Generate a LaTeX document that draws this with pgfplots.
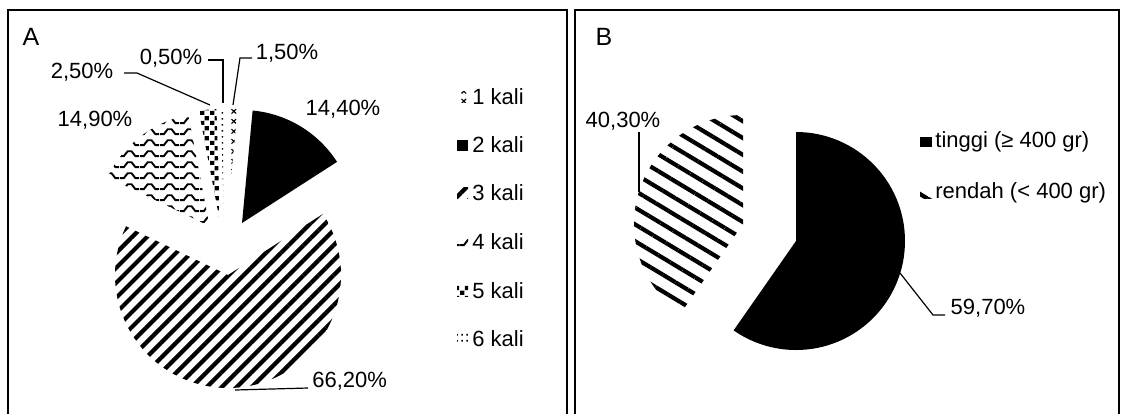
\documentclass[border=0pt]{standalone}
\usepackage{pgfplots}
\pgfplotsset{compat=1.18}
\usepackage{pgfplotstable}
\usetikzlibrary{patterns,patterns.meta}
\usepackage{fontspec}
\setmainfont{Liberation Sans}

\pgfdeclarepatternformonly{wavy}{\pgfqpoint{0pt}{0pt}}{\pgfqpoint{10pt}{5.6pt}}{\pgfqpoint{10pt}{5.6pt}}{
  \pgfsetlinewidth{1pt}
  \pgfpathmoveto{\pgfqpoint{0pt}{1pt}}
  \pgfpathlineto{\pgfqpoint{2pt}{1pt}}
  \pgfpathlineto{\pgfqpoint{4pt}{3.6pt}}
  \pgfpathlineto{\pgfqpoint{6pt}{3.6pt}}
  \pgfpathlineto{\pgfqpoint{8pt}{1pt}}
  \pgfpathlineto{\pgfqpoint{10pt}{1pt}}
  \pgfusepath{stroke}}
\pgfdeclarepatternformonly{checker}{\pgfqpoint{0pt}{0pt}}{\pgfqpoint{5pt}{5pt}}{\pgfqpoint{5pt}{5pt}}{
  \pgfpathrectangle{\pgfqpoint{0pt}{0pt}}{\pgfqpoint{2.3pt}{2.3pt}}
  \pgfpathrectangle{\pgfqpoint{2.5pt}{2.5pt}}{\pgfqpoint{2.3pt}{2.3pt}}
  \pgfusepath{fill}}
\pgfdeclarepatternformonly{smalldots}{\pgfqpoint{0pt}{0pt}}{\pgfqpoint{2.5pt}{3pt}}{\pgfqpoint{2.5pt}{3pt}}{
  \pgfpathrectangle{\pgfqpoint{0.8pt}{0.8pt}}{\pgfqpoint{0.8pt}{0.9pt}}
  \pgfusepath{fill}}
\pgfdeclarepatternformonly{smallx}{\pgfqpoint{0pt}{0pt}}{\pgfqpoint{5pt}{5pt}}{\pgfqpoint{5pt}{5pt}}{
  \pgfsetlinewidth{0.6pt}
  \pgfpathmoveto{\pgfqpoint{0.8pt}{0.8pt}}\pgfpathlineto{\pgfqpoint{3.2pt}{3.2pt}}
  \pgfpathmoveto{\pgfqpoint{0.8pt}{3.2pt}}\pgfpathlineto{\pgfqpoint{3.2pt}{0.8pt}}
  \pgfusepath{stroke}}

\tikzset{
  pA1/.style={pattern=smallx},
  pA2/.style={fill=black},
  pA3/.style={pattern={Lines[angle=45,distance=5.3pt,line width=2.1pt]}},
  pA4/.style={pattern=wavy},
  pA5/.style={pattern=checker},
  pA6/.style={pattern=smalldots},
  pB1/.style={fill=black},
  pB2/.style={pattern={Lines[angle=-31,distance=7.2pt,line width=2.1pt]}},
  lab/.style={font=\fontsize{11}{13}\selectfont, inner sep=0pt},
}

\pgfplotstableread{
kali pct
1 1.5
2 14.4
3 66.2
4 14.9
5 2.5
6 0.5
}\tabA
\pgfplotstableread{
kat pct
tinggi 59.7
rendah 40.3
}\tabB

\begin{document}
\begin{tikzpicture}
\pgfplotstablegetelem{0}{pct}\of\tabA \let\Aa\pgfplotsretval
\pgfplotstablegetelem{1}{pct}\of\tabA \let\Ab\pgfplotsretval
\pgfplotstablegetelem{2}{pct}\of\tabA \let\Ac\pgfplotsretval
\pgfplotstablegetelem{3}{pct}\of\tabA \let\Ad\pgfplotsretval
\pgfplotstablegetelem{4}{pct}\of\tabA \let\Ae\pgfplotsretval
\pgfplotstablegetelem{5}{pct}\of\tabA \let\Af\pgfplotsretval
\pgfplotstablegetelem{0}{pct}\of\tabB \let\Ba\pgfplotsretval
\pgfplotstablegetelem{1}{pct}\of\tabB \let\Bb\pgfplotsretval
% cumulative angles (math convention, clockwise from 12 o'clock)
\pgfmathsetmacro\tA{90}
\pgfmathsetmacro\tB{90-3.6*\Aa}
\pgfmathsetmacro\tC{\tB-3.6*\Ab}
\pgfmathsetmacro\tD{\tC-3.6*\Ac}
\pgfmathsetmacro\tE{\tD-3.6*\Ad}
\pgfmathsetmacro\tF{\tE-3.6*\Ae}
\pgfmathsetmacro\tG{\tF-3.6*\Af}
\pgfmathsetmacro\uA{90}
\pgfmathsetmacro\uB{90-3.6*\Ba}
\pgfmathsetmacro\uC{\uB-3.6*\Bb}
\begin{axis}[
  scale only axis, width=562pt, height=207pt,
  xmin=0, xmax=1124, ymin=0, ymax=414, y dir=reverse,
  hide axis, clip=false,
]
% panel frames
\draw[line width=0.6pt] (axis cs:8,414) -- (axis cs:8,10) -- (axis cs:567,10) -- (axis cs:567,414);
\draw[line width=0.6pt] (axis cs:575,414) -- (axis cs:575,10) -- (axis cs:1119,10) -- (axis cs:1119,414);
\node[font=\fontsize{12.5}{14}\selectfont, inner sep=0pt] at (axis cs:31,37) {A};
\node[font=\fontsize{12.5}{14}\selectfont, inner sep=0pt] at (axis cs:604,37) {B};

% ---- Pie A (r = 113 px = 56.5pt) ----
\fill[pA1] (axis cs:227,221) -- ++(\tA:56.5pt) arc[start angle=\tA, end angle=\tB, radius=56.5pt] -- cycle;
\fill[pA2] (axis cs:242,223) -- ++(\tB:56.5pt) arc[start angle=\tB, end angle=\tC, radius=56.5pt] -- cycle;
\fill[pA3] (axis cs:228,275) -- ++(\tC:56.5pt) arc[start angle=\tC, end angle=\tD, radius=56.5pt] -- cycle;
\fill[pA4] (axis cs:209.5,226) -- ++(\tD:56.5pt) arc[start angle=\tD, end angle=\tE, radius=56.5pt] -- cycle;
\fill[pA5] (axis cs:220,222) -- ++(\tE:56.5pt) arc[start angle=\tE, end angle=\tF, radius=56.5pt] -- cycle;
\fill[pA6] (axis cs:224,221) -- ++(\tF:56.5pt) arc[start angle=\tF, end angle=\tG, radius=56.5pt] -- cycle;

% labels A
\draw[line width=0.6pt] (axis cs:124,73) -- (axis cs:137,73) -- (axis cs:210,105);
\draw[line width=0.6pt] (axis cs:208,60) -- (axis cs:223,60) -- (axis cs:223,103);
\draw[line width=0.6pt] (axis cs:233,105) -- (axis cs:240,58) -- (axis cs:252,58);
\draw[line width=0.6pt] (axis cs:235,390) -- (axis cs:308,388);
\node[lab] at (axis cs:82,72) {2,50\%};
\node[lab] at (axis cs:171,58) {0,50\%};
\node[lab] at (axis cs:287,53) {1,50\%};
\node[lab] at (axis cs:95,120) {14,90\%};
\node[lab] at (axis cs:343,109) {14,40\%};
\node[lab, anchor=west] at (axis cs:312,381) {66,20\%};

% legend A
\fill[pA1] (axis cs:457,91.5) rectangle (axis cs:468,102.5);
\node[lab, anchor=west] at (axis cs:472,97) {1 kali};
\fill[pA2] (axis cs:457,139.5) rectangle (axis cs:468,150.5);
\node[lab, anchor=west] at (axis cs:472,145) {2 kali};
\fill[pA3] (axis cs:457,187.5) rectangle (axis cs:468,198.5);
\node[lab, anchor=west] at (axis cs:472,193) {3 kali};
\fill[pA4] (axis cs:457,236.5) rectangle (axis cs:468,247.5);
\node[lab, anchor=west] at (axis cs:472,242) {4 kali};
\fill[pA5] (axis cs:457,285.5) rectangle (axis cs:468,296.5);
\node[lab, anchor=west] at (axis cs:472,291) {5 kali};
\fill[pA6] (axis cs:457,333.5) rectangle (axis cs:468,344.5);
\node[lab, anchor=west] at (axis cs:472,339) {6 kali};

% ---- Pie B (r = 109 px = 54.5pt) ----
\fill[pB1] (axis cs:796,241) -- ++(\uA:54.5pt) arc[start angle=\uA, end angle=\uB, radius=54.5pt] -- cycle;
\fill[pB2] (axis cs:743,224) -- ++(\uB:54.5pt) arc[start angle=\uB, end angle=\uC, radius=54.5pt] -- cycle;
\draw[line width=0.6pt] (axis cs:639,132) -- (axis cs:639,192);
\draw[line width=0.6pt] (axis cs:900,273) -- (axis cs:933,315) -- (axis cs:945,315);
\node[lab] at (axis cs:623,121) {40,30\%};
\node[lab] at (axis cs:988,308) {59,70\%};

% legend B
\fill[pB1] (axis cs:920,137) rectangle (axis cs:932,147);
\node[lab, anchor=west] at (axis cs:935,142) {tinggi (≥ 400 gr)};
\fill[pB2] (axis cs:920,188) rectangle (axis cs:932,198);
\node[lab, anchor=west] at (axis cs:935,193) {rendah (< 400 gr)};
\end{axis}
\pgfresetboundingbox
\path (current axis.south west) rectangle (current axis.north east);
\end{tikzpicture}
\end{document}
